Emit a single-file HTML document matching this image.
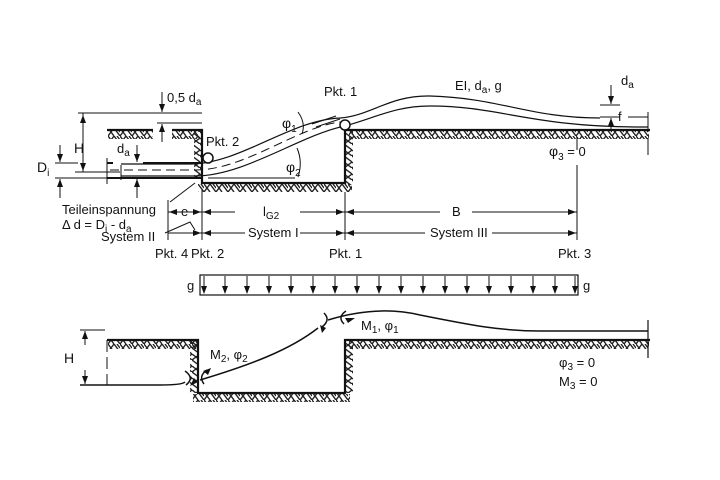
<!DOCTYPE html>
<html><head><meta charset="utf-8"><style>
html,body{margin:0;padding:0;background:#fff}
svg{display:block}
text{font-family:"Liberation Sans",sans-serif;fill:#111}
</style></head><body>
<svg width="720" height="480" viewBox="0 0 720 480" xmlns="http://www.w3.org/2000/svg">
<defs>
<pattern id="hh" width="12" height="8" patternUnits="userSpaceOnUse">
<path d="M0,0 L6,8 M6,0 L12,8 M0,8 L6,0 M9,0 L12,4" stroke="#222" stroke-width="1.4" fill="none"/>
</pattern>
<pattern id="hv" width="8" height="12" patternUnits="userSpaceOnUse">
<path d="M0,0 L8,6 M0,6 L8,12 M0,12 L8,6" stroke="#222" stroke-width="1.4" fill="none"/>
</pattern>
<marker id="ar" markerWidth="8" markerHeight="6" refX="8" refY="3" orient="auto" markerUnits="userSpaceOnUse"><path d="M0,0 L8,3 L0,6z" fill="#111"/></marker>
</defs>
<g stroke="#111" fill="none" stroke-width="1.2">
<rect x="108" y="131" width="45" height="8" fill="url(#hh)" stroke="none"/>
<rect x="172" y="131" width="28" height="8" fill="url(#hh)" stroke="none"/>
<rect x="194" y="131" width="8" height="47" fill="url(#hv)" stroke="none"/>
<rect x="198" y="184" width="154" height="8" fill="url(#hh)" stroke="none"/>
<rect x="345" y="131" width="8" height="54" fill="url(#hv)" stroke="none"/>
<rect x="349" y="131" width="300" height="8" fill="url(#hh)" stroke="none"/>
<path d="M107,130 H153 M172,130 H202 V183 H345 V130 H650" stroke-width="2.2"/>
<path d="M107,163 H113 M143,163 H202" stroke-width="2"/>
<path d="M107,178 H202" stroke-width="2"/>
<path d="M107,158 V184 M121,165 V180" stroke-width="1"/>
<path d="M121,164 H190 C240,164 290,120 340,118 C370,116 390,95 430,96 C500,98 530,118 600,118" />
<path d="M121,176 H195 C245,176 300,135 345,126 C375,118 395,106 430,106 C500,106 530,127 640,127 H648" />
<path d="M110,170 H195 C245,170 295,128 340,122" stroke-dasharray="9,5" stroke-width="1"/>
<path d="M312,124 L336,116 M316,127 L340,119" stroke-width="1"/>
<circle cx="208" cy="158" r="5" stroke-width="1.5" fill="#fff"/>
<circle cx="345" cy="125" r="5" stroke-width="1.5" fill="#fff"/>
<path d="M298,112 Q306,123 302,134" stroke-width="1"/>
<path d="M297,148 Q303,162 298,177" stroke-width="1"/>
<path d="M208,178 H295" stroke-width="1"/>
<path d="M78,113 H202 M157,123 H202 M55,163 H78 M55,178 H120 M75,172 H120" stroke-width="1"/>
<path d="M83,113 V172" stroke-width="1"/>
<path d="M83,125 L83,115" marker-end="url(#ar)" stroke-width="1"/>
<path d="M83,160 L83,171" marker-end="url(#ar)" stroke-width="1"/>
<path d="M60,145 L60,162" marker-end="url(#ar)" stroke-width="1"/>
<path d="M60,198 L60,179" marker-end="url(#ar)" stroke-width="1"/>
<path d="M162,92 L162,112" marker-end="url(#ar)" stroke-width="1"/>
<path d="M162,142 L162,124" marker-end="url(#ar)" stroke-width="1"/>
<path d="M137,145 L137,162" marker-end="url(#ar)" stroke-width="1"/>
<path d="M137,198 L137,179" marker-end="url(#ar)" stroke-width="1"/>
<path d="M170,202 L195,183 M165,233 L190,222 L195,230" stroke-width="1"/>
<path d="M600,105 H620 M600,117 H620 M628,117 H648" stroke-width="1"/>
<path d="M611,85 L611,104" marker-end="url(#ar)" stroke-width="1"/>
<path d="M611,130 L611,118" marker-end="url(#ar)" stroke-width="1"/>
<path d="M648,112 V155" stroke-width="1" stroke-dasharray="20,6"/>
<path d="M577,137 V150 M577,165 V240" stroke-width="1"/>
<path d="M168,200 V240 M202,190 V240 M345,192 V240" stroke-width="1"/>
<path d="M168,212 H235 M300,212 H440 M472,212 H577 M168,233 H245 M300,233 H425 M492,233 H577" stroke-width="1"/>
<path d="M185,212 L169,212" marker-end="url(#ar)" stroke-width="1"/>
<path d="M185,212 L201,212" marker-end="url(#ar)" stroke-width="1"/>
<path d="M220,212 L203,212" marker-end="url(#ar)" stroke-width="1"/>
<path d="M328,212 L344,212" marker-end="url(#ar)" stroke-width="1"/>
<path d="M362,212 L346,212" marker-end="url(#ar)" stroke-width="1"/>
<path d="M560,212 L576,212" marker-end="url(#ar)" stroke-width="1"/>
<path d="M185,233 L201,233" marker-end="url(#ar)" stroke-width="1"/>
<path d="M220,233 L203,233" marker-end="url(#ar)" stroke-width="1"/>
<path d="M328,233 L344,233" marker-end="url(#ar)" stroke-width="1"/>
<path d="M362,233 L346,233" marker-end="url(#ar)" stroke-width="1"/>
<path d="M560,233 L576,233" marker-end="url(#ar)" stroke-width="1"/>
<rect x="200" y="275" width="378" height="20" stroke-width="1.2"/>
<g stroke-width="1">
<path d="M204,276 V293 M225,276 V293 M247,276 V293 M269,276 V293 M291,276 V293 M313,276 V293 M335,276 V293 M357,276 V293 M379,276 V293 M401,276 V293 M423,276 V293 M445,276 V293 M467,276 V293 M489,276 V293 M511,276 V293 M533,276 V293 M555,276 V293 M575,276 V293"/>
</g>
<g fill="#111" stroke="none">
<path d="M201,286h6l-3,8z M222,286h6l-3,8z M244,286h6l-3,8z M266,286h6l-3,8z M288,286h6l-3,8z M310,286h6l-3,8z M332,286h6l-3,8z M354,286h6l-3,8z M376,286h6l-3,8z M398,286h6l-3,8z M420,286h6l-3,8z M442,286h6l-3,8z M464,286h6l-3,8z M486,286h6l-3,8z M508,286h6l-3,8z M530,286h6l-3,8z M552,286h6l-3,8z M572,286h6l-3,8z"/>
</g>
<rect x="108" y="341" width="90" height="8" fill="url(#hh)" stroke="none"/>
<rect x="190" y="341" width="8" height="52" fill="url(#hv)" stroke="none"/>
<rect x="193" y="394" width="157" height="8" fill="url(#hh)" stroke="none"/>
<rect x="345" y="341" width="8" height="52" fill="url(#hv)" stroke="none"/>
<rect x="349" y="341" width="300" height="8" fill="url(#hh)" stroke="none"/>
<path d="M107,340 H198 V393 H345 V340 H650" stroke-width="2.2"/>
<path d="M648,320 V358" stroke-width="1.2"/>
<path d="M80,330 H105 M80,385 H105" stroke-width="1"/>
<path d="M85,345 L85,331" marker-end="url(#ar)" stroke-width="1"/>
<path d="M85,370 L85,384" marker-end="url(#ar)" stroke-width="1"/>
<path d="M107,340 V385" stroke-width="1" stroke-dasharray="12,5"/>
<path d="M80,385 H160 C175,385 183,384 185,382" stroke-width="1.5"/>
<path d="M200,380 C250,365 290,350 318,328" stroke-width="1.5"/>
<path d="M328,320 C360,310 390,308 420,315 C470,325 500,331 540,331 H648" stroke-width="1.5"/>
<path d="M185,371 Q195,378 186,385 M204,384 Q198,376 207,370" stroke-width="1.5"/>
<path d="M324,313 Q331,320 322,327 M344,324 Q337,317 346,311" stroke-width="1.5"/>
<g fill="#111" stroke="none">
<path d="M203,371 l8,-3 l-3,7z M198,382 l-8,4 l4,-8z M322,333 l-2,-8 l6,3z M345,318 l10,0 l-7,5z"/>
</g>
</g>
<g font-size="13">
<text x="167" y="102">0,5 d<tspan font-size="10" dy="3">a</tspan></text>
<text x="79" y="153" font-size="14" text-anchor="middle">H</text>
<text x="37" y="172" font-size="14">D<tspan font-size="10" dy="4">i</tspan></text>
<text x="117" y="153">d<tspan font-size="10" dy="3">a</tspan></text>
<text x="206" y="146">Pkt. 2</text>
<text x="324" y="96">Pkt. 1</text>
<text x="282" y="128" font-size="14">φ<tspan font-size="10" dy="4">1</tspan></text>
<text x="286" y="172" font-size="14">φ<tspan font-size="10" dy="4">2</tspan></text>
<text x="455" y="90">EI, d<tspan font-size="10" dy="3">a</tspan><tspan dy="-3">, g</tspan></text>
<text x="621" y="85">d<tspan font-size="10" dy="3">a</tspan></text>
<text x="618" y="121">f</text>
<text x="549" y="156" font-size="14">φ<tspan font-size="10" dy="4">3</tspan><tspan dy="-4" font-size="13"> = 0</tspan></text>
<text x="62" y="214">Teileinspannung</text>
<text x="62" y="229">Δ d = D<tspan font-size="10" dy="3">i</tspan><tspan dy="-3"> - d</tspan><tspan font-size="10" dy="3">a</tspan></text>
<text x="101" y="241">System II</text>
<text x="181" y="216">e</text>
<text x="263" y="216">l<tspan font-size="10" dy="3">G2</tspan></text>
<text x="452" y="216">B</text>
<text x="248" y="237">System I</text>
<text x="430" y="237">System III</text>
<text x="155" y="258">Pkt. 4</text>
<text x="191" y="258">Pkt. 2</text>
<text x="329" y="258">Pkt. 1</text>
<text x="558" y="258">Pkt. 3</text>
<text x="187" y="290">g</text>
<text x="583" y="290">g</text>
<text x="64" y="363" font-size="14">H</text>
<text x="210" y="359">M<tspan font-size="10" dy="3">2</tspan><tspan dy="-3">, φ</tspan><tspan font-size="10" dy="3">2</tspan></text>
<text x="361" y="330">M<tspan font-size="10" dy="3">1</tspan><tspan dy="-3">, φ</tspan><tspan font-size="10" dy="3">1</tspan></text>
<text x="559" y="367">φ<tspan font-size="10" dy="3">3</tspan><tspan dy="-3"> = 0</tspan></text>
<text x="559" y="386">M<tspan font-size="10" dy="3">3</tspan><tspan dy="-3"> = 0</tspan></text>
</g>
</svg>
</body></html>
